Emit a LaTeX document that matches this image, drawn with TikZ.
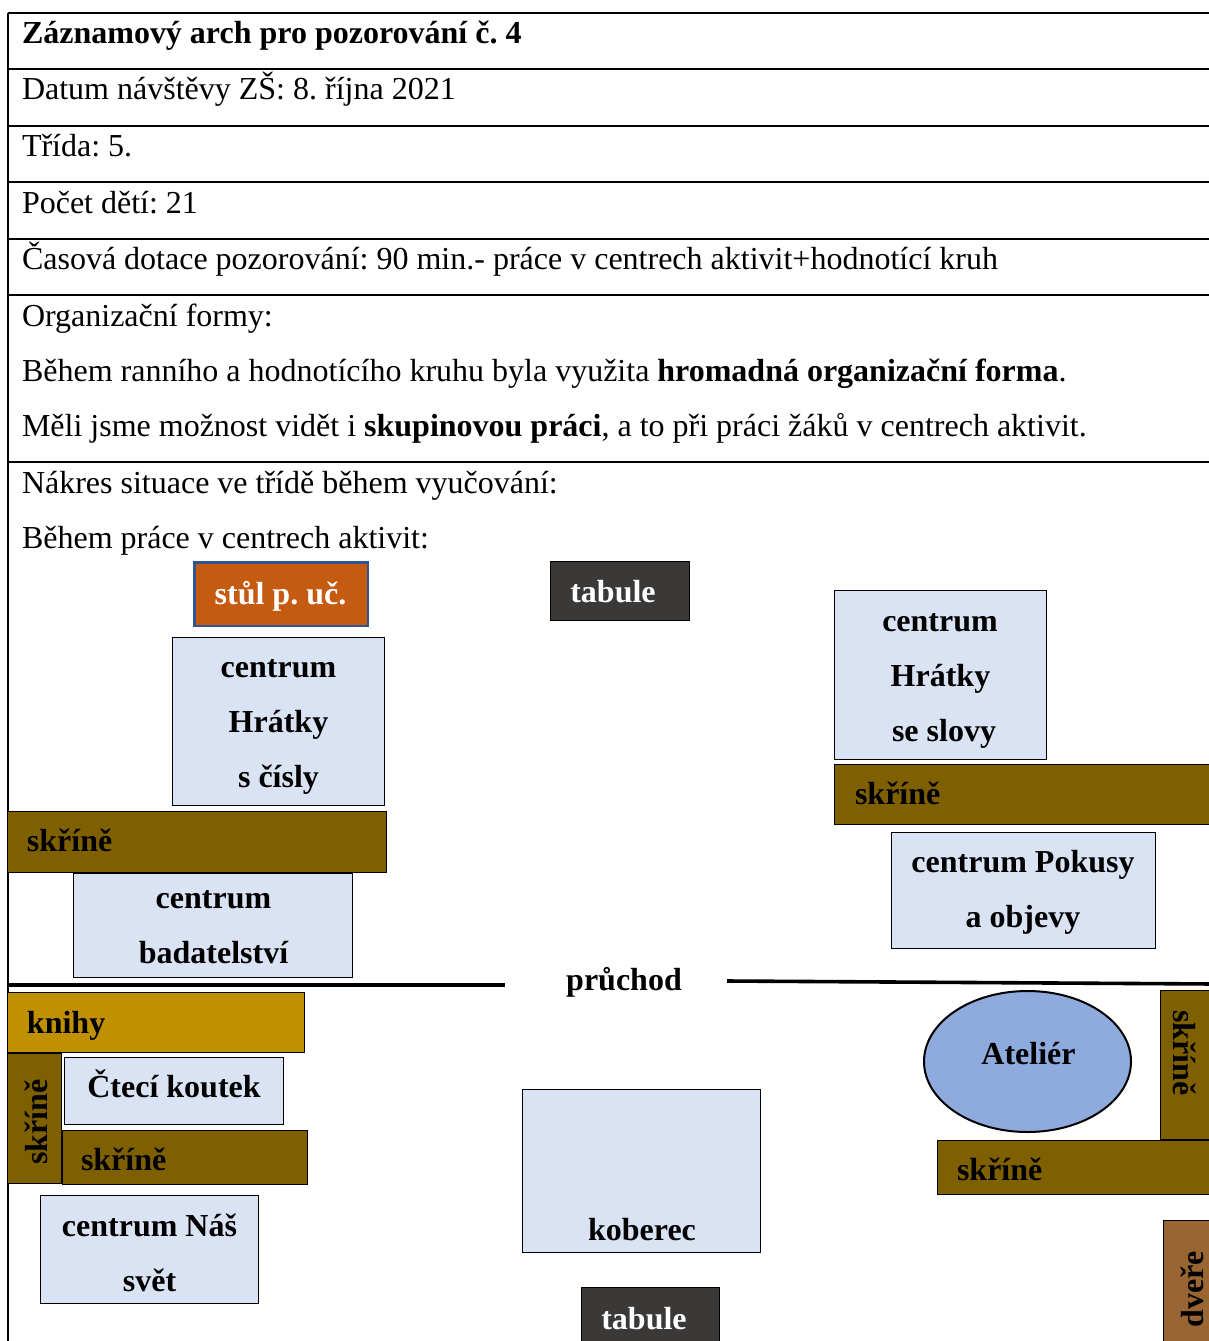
\documentclass[tikz,border=0pt]{standalone}
\usepackage{fontspec}
\setmainfont{Liberation Serif}
\AtBeginDocument{\frenchspacing}
\usetikzlibrary{shapes.geometric}
\definecolor{light}{HTML}{DAE3F3}
\definecolor{cab}{HTML}{7F6000}
\definecolor{book}{HTML}{BF9000}
\definecolor{desk}{HTML}{C55A11}
\definecolor{deskline}{HTML}{2F5597}
\definecolor{board}{HTML}{3B3838}
\definecolor{door}{HTML}{996633}
\definecolor{atel}{HTML}{8FAADC}
\newcommand{\bx}[6]{\node[#6,minimum width={(#4-#2-0.6)*1pt},minimum height={(#5-#3-0.6)*1pt},anchor=north west] (#1) at (#2,#3) {};}
\tikzset{
  base/.style={draw=black,line width=1pt,inner sep=0pt,outer sep=0pt,rectangle},
  center/.style={base,fill=light},
  cabinet/.style={base,fill=cab},
  books/.style={base,fill=book},
  desk/.style={base,fill=desk,draw=deskline,line width=2.6pt},
  boardbox/.style={base,fill=board},
  doorbox/.style={base,fill=door},
  tx/.style={anchor=base west,inner sep=0pt,outer sep=0pt,font=\fontsize{32}{38}\selectfont},
  bt/.style={anchor=base,inner sep=0pt,outer sep=0pt,font=\fontsize{32}{38}\selectfont\bfseries},
  bl/.style={tx,font=\fontsize{32}{38}\selectfont\bfseries},
  rule/.style={line width=2pt,black},
  thick rule/.style={line width=3.6pt,black}
}
\begin{document}
\begin{tikzpicture}[x=1pt,y=-1pt]
\clip (0,0) rectangle (1209,1341);
\fill[white] (0,0) rectangle (1209,1341);
% table
\coordinate (tl) at (8,13); \coordinate (bl) at (8,1345);
\draw[rule] (tl) -- (bl);
\foreach \y/\n in {13/a,69/b,126/c,182/d,239/e,295/f,462/g}{
  \coordinate (l\n) at (8,\y); \coordinate (r\n) at (1215,\y);
  \draw[rule] (l\n) -- (r\n);
}
\node[tx] (t1) at (22,43) {\bfseries Záznamový arch pro pozorování č. 4};
\node[tx] (t2) at (22,99) {Datum návštěvy ZŠ: 8. října 2021};
\node[tx] (t3) at (22,156) {Třída: 5.};
\node[tx] (t4) at (22,213) {Počet dětí: 21};
\node[tx] (t5) at (22,269) {Časová dotace pozorování: 90 min.- práce v centrech aktivit+hodnotící kruh};
\node[tx] (t6) at (22,326) {Organizační formy:};
\node[tx] (t7) at (22,381) {Během ranního a hodnotícího kruhu byla využita \textbf{hromadná organizační forma}.};
\node[tx] (t8) at (22,436) {Měli jsme možnost vidět i \textbf{skupinovou práci}, a to při práci žáků v centrech aktivit.};
\node[tx] (t9) at (22,493) {Nákres situace ve třídě během vyučování:};
\node[tx] (t10) at (22,548) {Během práce v centrech aktivit:};
% upper boxes
\bx{desk1}{194.5}{562.5}{368.6}{626.6}{desk}
\bx{board1}{550}{561}{690}{621}{boardbox}
\bx{cisla}{172}{637}{385}{806}{center}
\bx{cab1}{7}{811}{387}{873}{cabinet}
\bx{badat}{73}{873}{353}{978}{center}
\bx{slova}{834}{590}{1047}{760}{center}
\bx{cab2}{834}{764}{1215}{825}{cabinet}
\bx{pokusy}{891}{832}{1156}{949}{center}
\node[bt,text=white] (l1) at (280.5,604) {stůl p. uč.};
\node[bt,text=white] (l2) at (613,602) {tabule};
\node[bt] (l3) at (278.5,677) {centrum};
\node[bt] (l4) at (278.5,732) {Hrátky};
\node[bt] (l5) at (278.5,787) {s čísly};
\node[bl] (l6) at (27,851) {skříně};
\node[bt] (l7) at (213.5,908) {centrum};
\node[bt] (l8) at (213.5,963) {badatelství};
\node[bt] (l9) at (940,631) {centrum};
\node[bt] (l10) at (940.5,686) {Hrátky};
\node[bt] (l11) at (944,741) {se slovy};
\node[bl] (l12) at (855,804) {skříně};
\node[bt] (l13) at (1023,872) {centrum Pokusy};
\node[bt] (l14) at (1023,927) {a objevy};
% passage
\coordinate (p1) at (8,985); \coordinate (p2) at (505,985);
\coordinate (p3) at (727,981); \coordinate (p4) at (1215,984);
\draw[thick rule] (p1) -- (p2);
\draw[thick rule] (p3) -- (p4);
\node[bt] (pr) at (624,990) {průchod};
% lower boxes
\bx{knihy}{7}{992}{305}{1053}{books}
\bx{cab3}{7}{1053}{62}{1184}{cabinet}
\bx{cteci}{64}{1057}{284}{1125}{center}
\bx{cab4}{62}{1130}{308}{1185}{cabinet}
\bx{svet}{40}{1195}{259}{1304}{center}
\bx{kob}{522}{1089}{761}{1253}{center}
\bx{board2}{581}{1287}{720}{1350}{boardbox}
\node[ellipse,draw=black,line width=2pt,fill=atel,inner sep=0pt,outer sep=0pt,minimum width=207pt,minimum height=141pt] (atelier) at (1027.5,1061.5) {};
\bx{cab5}{1160}{990}{1215}{1140}{cabinet}
\bx{cab6}{937}{1140}{1215}{1195}{cabinet}
\bx{dvere}{1163}{1220}{1215}{1350}{doorbox}
\node[bl] (l15) at (27,1033) {knihy};
\node[bt,rotate=90] (l16) at (47,1122) {skříně};
\node[bt] (l17) at (174,1097) {Čtecí koutek};
\node[bl] (l18) at (81,1170) {skříně};
\node[bt] (l19) at (149.5,1236) {centrum Náš};
\node[bt] (l20) at (149.5,1291) {svět};
\node[bt] (l21) at (642,1240) {koberec};
\node[bt,text=white] (l22) at (644,1329) {tabule};
\node[bt] (l23) at (1028.5,1064) {Ateliér};
\node[bt,rotate=-90] (l24) at (1173,1053) {skříně};
\node[bl] (l25) at (957,1180) {skříně};
\node[bt,rotate=90] (l26) at (1203,1289) {dveře};
\end{tikzpicture}
\end{document}
